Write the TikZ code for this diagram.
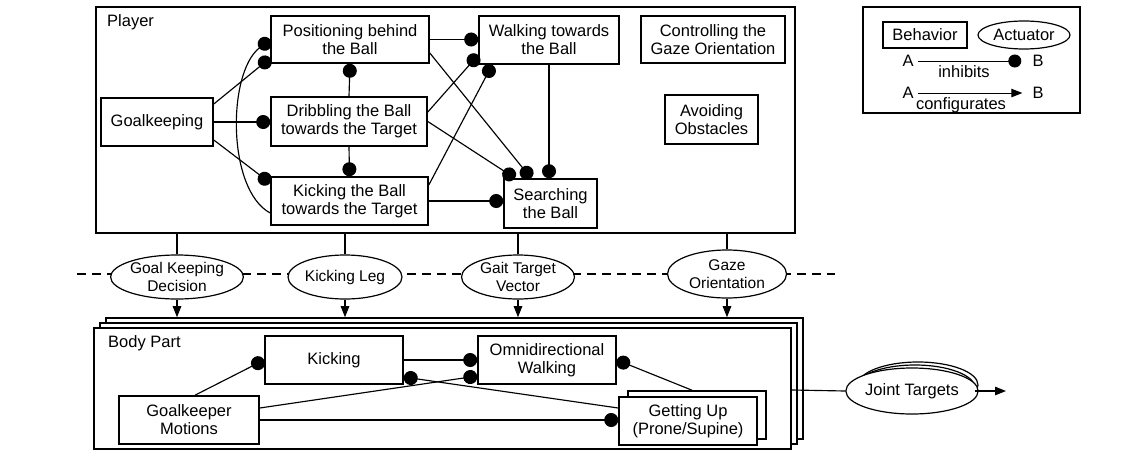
\documentclass[tikz,border=0pt]{standalone}
\usepackage{fontspec}
\setmainfont{Liberation Sans}
\usetikzlibrary{shapes.geometric,arrows.meta}
\begin{document}
\begin{tikzpicture}[x=1pt,y=-1pt,
  every node/.style={font=\fontsize{16.5}{18}\selectfont, align=center, inner sep=0pt},
  beh/.style={draw, line width=1.6pt, fill=white},
  act/.style={draw, ellipse, line width=1.2pt, fill=white, font=\fontsize{15.5}{18}\selectfont},
  frame/.style={draw, line width=1.6pt, fill=white},
  conn/.style={line width=1.15pt},
  inh/.style={conn, -{Circle[length=14pt]}},
  cfg/.style={conn, -{Triangle[length=11pt,width=8.5pt]}},
  lbl/.style={anchor=west}]
\useasboundingbox (0,0) rectangle (1135,453);

% ---------- Player layer ----------
\node[frame, minimum width=699pt, minimum height=226pt] (player) at (445.5,120) {};
\node[lbl] (playerlbl) at (107,22) {Player};

\node[beh, minimum width=158pt, minimum height=47pt] (pos) at (350,39.5) {Positioning behind\\the Ball};
\node[beh, minimum width=140pt, minimum height=48pt] (walk) at (549,40) {Walking towards\\the Ball};
\node[beh, minimum width=144pt, minimum height=47pt] (gazectl) at (713,39.5) {Controlling the\\Gaze Orientation};
\node[beh, minimum width=112pt, minimum height=48pt] (goal) at (157,122) {Goalkeeping};
\node[beh, minimum width=156pt, minimum height=49pt] (drib) at (349,121.5) {Dribbling the Ball\\towards the Target};
\node[beh, minimum width=93pt, minimum height=49pt] (avoid) at (711.5,119.5) {Avoiding\\Obstacles};
\node[beh, minimum width=157pt, minimum height=48pt] (kick) at (349.5,201) {Kicking the Ball\\towards the Target};
\node[beh, minimum width=93pt, minimum height=49pt] (search) at (550.5,203.5) {Searching\\the Ball};

\draw[inh] ([yshift=18pt]goal.east) -- ([yshift=-18.5pt]pos.west);
\draw[inh] ([yshift=-12pt]kick.west) .. controls (227,190) and (227,73) .. (pos.west);
\draw[inh] (goal.east) -- (goal.east -| drib.west);
\draw[inh] ([yshift=-18pt]goal.east) -- ([yshift=18pt]kick.west);
\draw[inh] (drib.north) -- (pos.south);
\draw[inh] (drib.south) -- (kick.north);
\draw[inh] (kick.east) -- (kick.east -| search.west);
\draw[inh] (pos.east) -- (pos.east -| walk.west);
\draw[inh] ([yshift=9.5pt]drib.east) -- ([yshift=-15pt]walk.west);
\draw[inh] ([yshift=16pt]kick.east) -- ([xshift=14pt]walk.south west);
\draw[inh] ([yshift=-13.5pt]pos.east) -- ([xshift=-19.5pt]search.north);
\draw[inh] (drib.east) -- ([xshift=-35.5pt]search.north);
\draw[inh] (walk.south) -- (walk.south |- search.north);

% ---------- Actuators ----------
\coordinate (dl) at (77,274);
\coordinate (dr) at (835,274);
\draw[conn, dashed, dash pattern=on 9pt off 6pt] (dl) -- (dr);

\node[act, minimum width=113pt, minimum height=44pt] (gkd) at (177,277) {Goal Keeping\\Decision};
\node[act, minimum width=114pt, minimum height=44pt] (kleg) at (345,277) {Kicking Leg};
\node[act, minimum width=113pt, minimum height=44pt] (gait) at (518,277) {Gait Target\\Vector};
\node[act, minimum width=119pt, minimum height=48pt] (gazeo) at (727,274) {Gaze\\Orientation};

% ---------- Body part layer ----------
\node[frame, minimum width=697pt, minimum height=121pt] (bp3) at (454.5,378.5) {};
\node[frame, minimum width=697pt, minimum height=121pt] (bp2) at (448.5,383.5) {};
\node[frame, minimum width=697pt, minimum height=121pt] (bp1) at (442.5,388.5) {};
\node[lbl] (bplbl) at (108,343) {Body Part};

\foreach \a in {gkd,kleg,gait,gazeo}{
  \draw[conn] (\a.north) -- (\a.north |- player.south);
  \draw[cfg] (\a.south) -- (\a.south |- bp3.north);
}

\node[beh, minimum width=138pt, minimum height=48pt] (bkick) at (334,360) {Kicking};
\node[beh, minimum width=138pt, minimum height=48pt] (omni) at (547,360) {Omnidirectional\\Walking};
\node[beh, minimum width=140pt, minimum height=48pt] (gkm) at (189,420) {Goalkeeper\\Motions};
\node[beh, minimum width=138pt, minimum height=48pt] (getupb) at (697,415) {};
\node[beh, minimum width=138pt, minimum height=48pt] (getup) at (688,421) {Getting Up\\(Prone/Supine)};

\draw[inh] ([xshift=6pt]gkm.north) -- (bkick.west);
\draw[inh] (bkick.east) -- (bkick.east -| omni.west);
\draw[inh] ([yshift=12pt]gkm.east) -- ([yshift=-16pt]omni.west);
\draw[inh] ([yshift=13pt]getup.west) -- ([yshift=-17pt]bkick.east);
\draw[inh] (gkm.east) -- (gkm.east -| getup.west);
\draw[inh] ([xshift=-5pt]getupb.north) -- (omni.east);

% ---------- Joint targets ----------
\node[act, minimum width=120pt, minimum height=46pt] (jt3) at (918,385) {};
\node[act, minimum width=120pt, minimum height=46pt] (jt2) at (915,388) {};
\node[act, minimum width=120pt, minimum height=46pt, font=\fontsize{16.5}{18}\selectfont] (jt) at (912,391) {Joint Targets};
\draw[conn] ([yshift=-1.5pt]bp1.east) -- (jt.west);
\coordinate (jtend) at (1006,391);
\draw[cfg] ([xshift=-4pt]jt3.east |- jt.east) -- (jtend);

% ---------- Legend ----------
\node[draw, line width=1.5pt, minimum width=217pt, minimum height=106pt] (legend) at (971.5,60) {};
\node[beh, minimum width=84pt, minimum height=26pt] (lbeh) at (925,35) {Behavior};
\node[act, minimum width=92pt, minimum height=28pt, font=\fontsize{16.5}{18}\selectfont] (lact) at (1024,35) {Actuator};
\node[inner sep=4pt] (la1) at (908,61) {A};
\node[inner sep=4pt] (lb1) at (1038,61) {B};
\node[inner sep=4pt] (la2) at (908,93) {A};
\node[inner sep=4pt] (lb2) at (1038,93) {B};
\draw[conn, line width=0.9pt, -{Circle[length=13pt]}, shorten >=7pt] (la1) -- (lb1);
\draw[cfg, line width=0.9pt, shorten >=6pt] (la2) -- (lb2);
\node[anchor=north] (linh) at (964,65) {inhibits};
\node[anchor=north] (lcfg) at (961,97) {configurates};
\end{tikzpicture}
\end{document}
